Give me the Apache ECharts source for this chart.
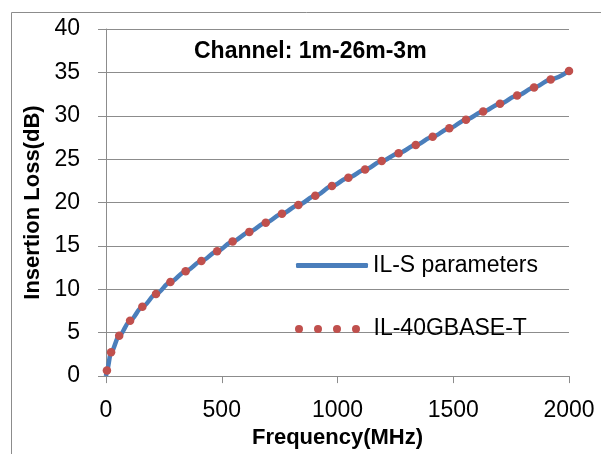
<!DOCTYPE html>
<html>
<head>
<meta charset="utf-8">
<script src="https://cdn.jsdelivr.net/npm/echarts@6/dist/echarts.min.js"></script>
<style>
html,body{margin:0;padding:0;background:#fff;}
#chart{width:601px;height:454px;}
</style>
</head>
<body>
<div id="chart"></div>
<script>
// ---- data ----
var titleText = 'Channel: 1m-26m-3m';
var xAxisName = 'Frequency(MHz)';
var yAxisName = 'Insertion Loss(dB)';
var seriesNames = ['IL-S parameters', 'IL-40GBASE-T'];

// IL-40GBASE-T markers (frequency MHz, insertion loss dB)
var gbaseFreq = [4, 22, 57, 104, 157, 216, 278, 344, 412, 480, 547, 619, 690, 760, 831, 904, 976, 1047, 1119, 1191, 1264, 1338, 1411, 1483, 1555, 1629, 1702, 1776, 1849, 1921, 2000];
var gbaseIL   = [0.65, 2.76, 4.65, 6.39, 7.98, 9.45, 10.84, 12.09, 13.26, 14.38, 15.52, 16.62, 17.68, 18.70, 19.72, 20.78, 21.90, 22.86, 23.80, 24.78, 25.69, 26.63, 27.58, 28.56, 29.55, 30.48, 31.39, 32.34, 33.25, 34.19, 35.17];

// IL-S parameters curve
var sparFreq = [0, 4, 22, 57, 104, 157, 216, 278, 344, 412, 480, 547, 619, 690, 760, 831, 904, 976, 1047, 1119, 1191, 1264, 1338, 1411, 1483, 1555, 1629, 1702, 1776, 1849, 1921, 2000];
var sparIL   = [0.0, 0.65, 2.76, 4.65, 6.39, 7.98, 9.45, 10.84, 12.09, 13.26, 14.38, 15.52, 16.62, 17.68, 18.70, 19.72, 20.78, 21.90, 22.86, 23.80, 24.78, 25.69, 26.63, 27.58, 28.56, 29.55, 30.48, 31.39, 32.34, 33.25, 34.19, 35.17];

var xMin = 0, xMax = 2000, xInterval = 500;
var yMin = 0, yMax = 40, yInterval = 5;

function zip(a, b) { return a.map(function (v, i) { return [v, b[i]]; }); }

var FONT = '"Liberation Sans", Arial, sans-serif';
var GRID_COLOR = '#8c8c8c';
var BLUE = '#4A7EBB';
var RED = '#C0504D';

// legend icon: four dots (last sub-path only widens the box)
var dotsIcon = 'path://M0,4a4,4 0 1,0 8,0a4,4 0 1,0 -8,0Z' +
  'M19,4a4,4 0 1,0 8,0a4,4 0 1,0 -8,0Z' +
  'M38,4a4,4 0 1,0 8,0a4,4 0 1,0 -8,0Z' +
  'M57,4a4,4 0 1,0 8,0a4,4 0 1,0 -8,0Z' +
  'M73.5,0L73.5,0L73.5,8L73.5,8Z';

var chart = echarts.init(document.getElementById('chart'), null, {renderer: 'canvas'});
chart.setOption({
  backgroundColor: '#fff',
  animation: false,
  title: {
    text: titleText,
    left: 194, top: 40, padding: 0,
    textStyle: {fontFamily: FONT, fontSize: 23, fontWeight: 'bold', color: '#000', lineHeight: 24}
  },
  legend: [{
    data: [{name: seriesNames[0], icon: 'roundRect'}],
    left: 296, top: 253.5, padding: 0,
    itemWidth: 72, itemHeight: 5,
    textStyle: {fontFamily: FONT, fontSize: 23, color: '#000', lineHeight: 24}
  }, {
    data: [{name: seriesNames[1], icon: dotsIcon}],
    left: 295, top: 317, padding: 0,
    itemWidth: 73.5, itemHeight: 8,
    textStyle: {fontFamily: FONT, fontSize: 23, color: '#000', lineHeight: 24}
  }],
  grid: {left: 106, right: 32, top: 29, bottom: 72, containLabel: false},
  xAxis: {
    type: 'value', min: xMin, max: xMax, interval: xInterval,
    name: xAxisName, nameLocation: 'middle', nameGap: 48,
    nameTextStyle: {fontFamily: FONT, fontSize: 22, fontWeight: 'bold', color: '#000', lineHeight: 22},
    axisLine: {show: true, lineStyle: {color: GRID_COLOR, width: 1}},
    axisTick: {show: true, inside: false, length: 7, lineStyle: {color: GRID_COLOR}},
    axisLabel: {margin: 23, fontFamily: FONT, fontSize: 23, color: '#000', lineHeight: 23,
      formatter: function (v) { return String(v); }},
    splitLine: {show: false}
  },
  yAxis: {
    type: 'value', min: yMin, max: yMax, interval: yInterval,
    name: yAxisName, nameLocation: 'middle', nameGap: 62, nameRotate: 90,
    nameTextStyle: {fontFamily: FONT, fontSize: 22, fontWeight: 'bold', color: '#000', lineHeight: 22},
    axisLine: {show: true, lineStyle: {color: GRID_COLOR, width: 1}},
    axisTick: {show: true, inside: false, length: 8, lineStyle: {color: GRID_COLOR}},
    axisLabel: {margin: 26, fontFamily: FONT, fontSize: 23, color: '#000',
      formatter: function (v) { return String(v); }},
    splitLine: {show: true, lineStyle: {color: GRID_COLOR, width: 1}}
  },
  series: [{
    name: seriesNames[0],
    type: 'line',
    data: zip(sparFreq, sparIL),
    smooth: 0.3,
    smoothMonotone: 'x',
    showSymbol: false,
    symbol: 'none',
    itemStyle: {color: BLUE},
    lineStyle: {color: BLUE, width: 4.5},
    z: 2
  }, {
    name: seriesNames[1],
    type: 'scatter',
    data: zip(gbaseFreq, gbaseIL),
    symbol: 'circle',
    symbolSize: 8.5,
    itemStyle: {color: RED, opacity: 1},
    z: 3
  }],
  graphic: [{
    type: 'polyline',
    shape: {points: [[11.5, 454], [11.5, 12.5], [601, 12.5]]},
    style: {stroke: GRID_COLOR, lineWidth: 1, fill: null},
    silent: true
  }]
});
</script>
</body>
</html>
